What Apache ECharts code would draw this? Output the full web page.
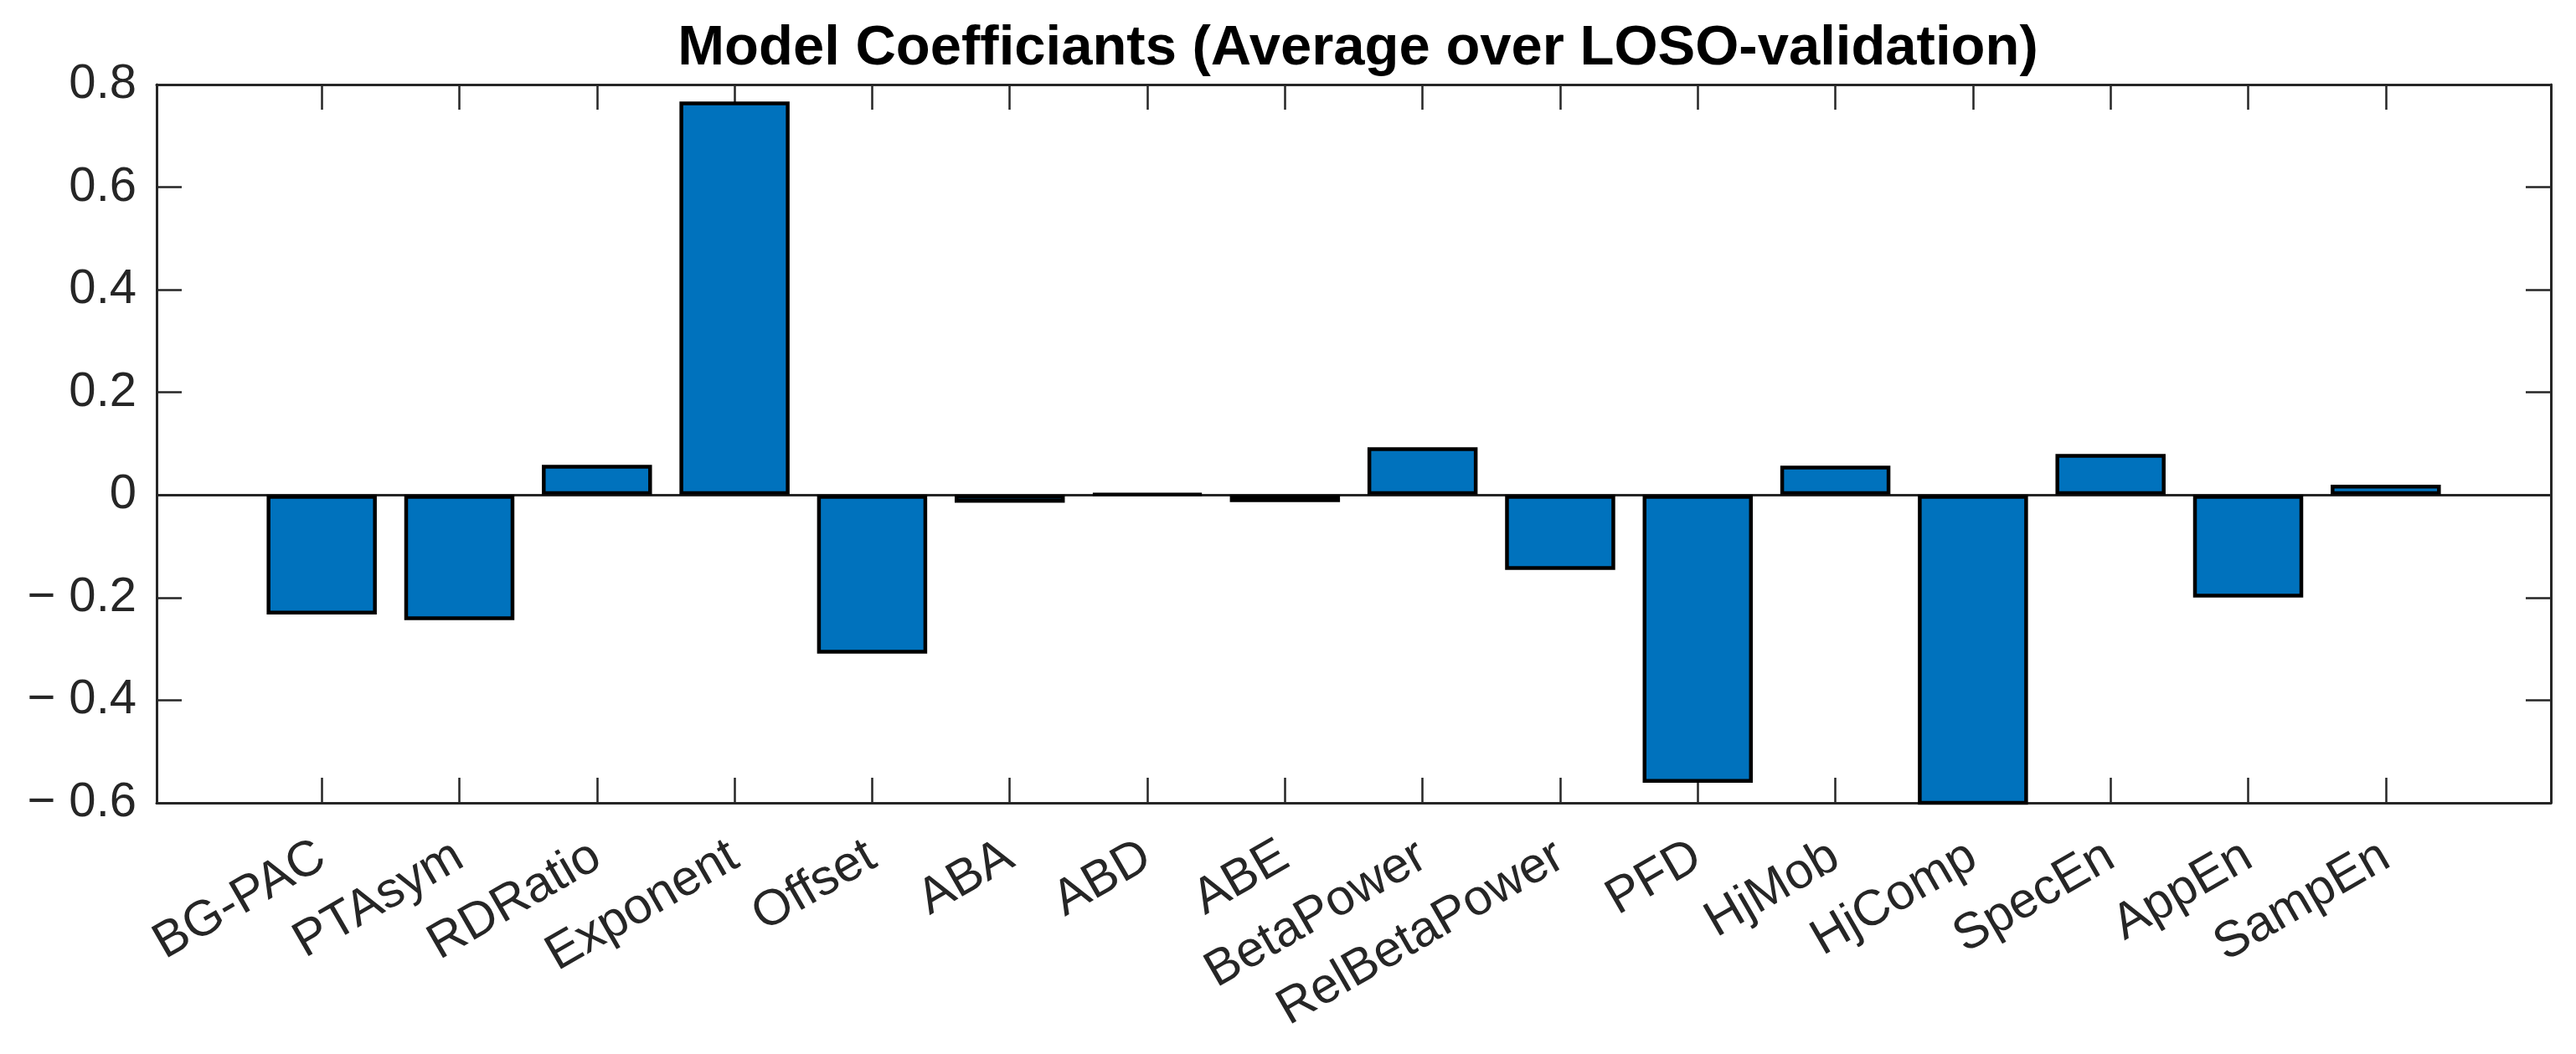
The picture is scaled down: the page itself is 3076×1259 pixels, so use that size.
<!DOCTYPE html>
<html>
<head>
<meta charset="utf-8">
<script src="https://cdn.jsdelivr.net/npm/echarts@6/dist/echarts.min.js"></script>
<style>
html,body{margin:0;padding:0;background:#fff;}
#chart{width:3076px;height:1259px;}
</style>
</head>
<body>
<div id="chart"></div>
<script>
const categories = ['BG-PAC','PTAsym','RDRatio','Exponent','Offset','ABA','ABD','ABE','BetaPower','RelBetaPower','PFD','HjMob','HjComp','SpecEn','AppEn','SampEn'];
const coefficients = [-0.233, -0.244, 0.059, 0.767, -0.309, -0.015, 0.002, -0.014, 0.093, -0.146, -0.561, 0.057, -0.65, 0.080, -0.200, 0.020];
const yTicks = [-0.6, -0.4, -0.2, 0, 0.2, 0.4, 0.6, 0.8];
const titleText = 'Model Coefficiants (Average over LOSO-validation)';

const FONT = "'Liberation Sans', Arial, Helvetica, sans-serif";
const AX = '#262626';
const positions = categories.map((c, i) => i + 1);

function yFmt(v) {
  if (Math.abs(v) < 1e-9) return '0';
  return (v < 0 ? '\u2212 ' : '') + Math.abs(v).toFixed(1);
}

const chart = echarts.init(document.getElementById('chart'), null, {renderer: 'canvas'});

const xBase = {
  type: 'value', min: -0.2, max: 17.2,
  axisLine: {show: true, onZero: false, lineStyle: {color: AX, width: 3}},
  axisTick: {show: true, inside: true, length: 30, customValues: positions, lineStyle: {color: AX, width: 2.5}},
  splitLine: {show: false}
};
const yBase = {
  type: 'value', min: -0.6, max: 0.8, interval: 0.2,
  axisLine: {show: true, onZero: false, lineStyle: {color: AX, width: 3}},
  axisTick: {show: true, inside: true, length: 30, lineStyle: {color: AX, width: 2.5}},
  splitLine: {show: false}
};

chart.setOption({
  animation: false,
  backgroundColor: '#fff',
  title: {
    text: titleText,
    left: 1616.5, top: 20, textAlign: 'center',
    textStyle: {fontFamily: FONT, fontWeight: 'bold', fontSize: 67, color: '#000'}
  },
  grid: {left: 187, right: 30, top: 101, bottom: 300, containLabel: false},
  xAxis: [
    Object.assign({}, xBase, {
      position: 'bottom',
      axisLabel: {
        show: true, customValues: positions, rotate: 30, margin: 60,
        fontFamily: FONT, fontSize: 60, color: AX,
        formatter: v => categories[Math.round(v) - 1] || ''
      }
    }),
    Object.assign({}, xBase, {position: 'top', axisLabel: {show: false}})
  ],
  yAxis: [
    Object.assign({}, yBase, {
      position: 'left',
      axisLabel: {show: true, margin: 24, fontFamily: FONT, fontSize: 58, color: AX, formatter: yFmt}
    }),
    Object.assign({}, yBase, {position: 'right', axisLabel: {show: false}})
  ],
  series: [{
    type: 'bar',
    xAxisIndex: 0, yAxisIndex: 0,
    data: categories.map((c, i) => [positions[i], coefficients[i]]),
    barWidth: 131.5,
    clip: true,
    itemStyle: {color: '#0072BD', borderColor: '#000', borderWidth: 4.5},
    markLine: {
      silent: true, symbol: 'none', z: 1,
      label: {show: false},
      lineStyle: {color: AX, width: 3, type: 'solid'},
      data: [{yAxis: 0}]
    }
  }]
});
</script>
</body>
</html>
